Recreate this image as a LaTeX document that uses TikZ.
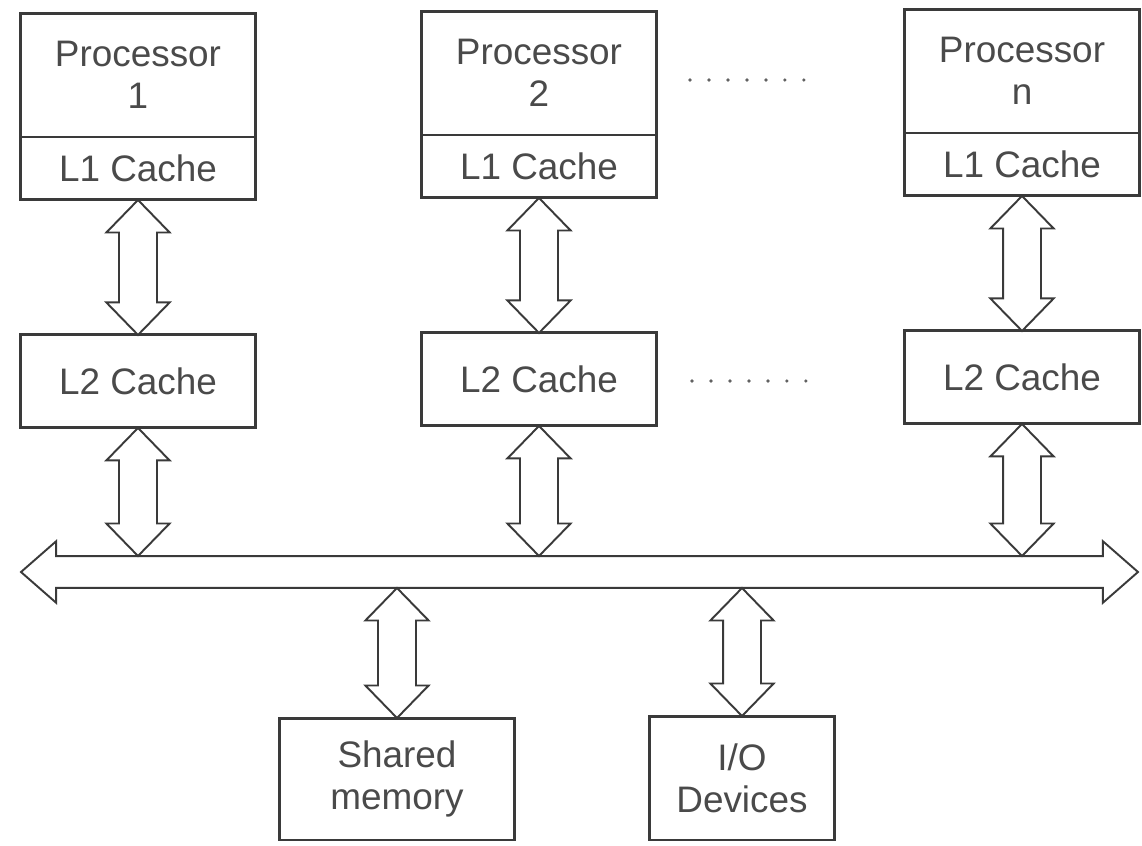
\documentclass[tikz,border=0pt]{standalone}
\usepackage{fontspec}
\setmainfont{Liberation Sans}
\usepackage{tikz}
\usetikzlibrary{positioning, calc}

\definecolor{inkgray}{HTML}{3A3A3A}
\definecolor{textgray}{HTML}{4A4A4A}

\tikzset{
	unittext/.style={minimum width=4.7cm, align=center, text=textgray,
		font=\fontsize{21}{24}\selectfont, inner sep=0pt, outer sep=0pt},
	unitbox/.style={unittext, draw=inkgray, line width=1.7pt},
	boxline/.style={draw=inkgray, line width=1.7pt},
	splitline/.style={draw=inkgray, line width=1pt},
	fatline/.style={draw=inkgray, line width=1.1pt, fill=white, line join=miter},
	dotrow/.style={inkgray!80, line width=2.1pt, line cap=round, dash pattern=on 0pt off 10.8pt}
}

% hollow double arrow, top point #1, bottom point #2
\newcommand{\vfat}[2]{%
	\draw[fatline] let \p1=#1, \p2=#2 in
	(\x1,\y1) -- ++(18pt,-18.5pt) -- ++(-7.2pt,0) -- (\x1+10.8pt,\y2+18.5pt) -- ++(7.2pt,0)
	-- (\x1,\y2) -- ++(-18pt,18.5pt) -- ++(7.2pt,0) -- (\x1-10.8pt,\y1-18.5pt) -- ++(-7.2pt,0) -- cycle;}

\begin{document}
\begin{tikzpicture}[x=0.02cm, y=-0.02cm]
		\useasboundingbox (0,0) rectangle (1142,845);
		
		% Processors with their L1 caches
		\node[unittext, minimum height=2.48cm] (p1) at (138,75) {Processor\\1};
		\node[unittext, minimum height=1.26cm, below=0pt of p1] (c1) {L1 Cache};
		\node[unittext, minimum height=2.48cm] (p2) at (539,73) {Processor\\2};
		\node[unittext, minimum height=1.26cm, below=0pt of p2] (c2) {L1 Cache};
		\node[unittext, minimum height=2.48cm] (pn) at (1022,71) {Processor\\n};
		\node[unittext, minimum height=1.26cm, below=0pt of pn] (cn) {L1 Cache};
		\foreach \p/\c in {p1/c1, p2/c2, pn/cn} {
			\draw[boxline] (\p.north west) rectangle (\c.south east);
			\draw[splitline] (\c.north west) -- (\c.north east);
		}
		
		% L2 caches
		\node[unitbox, minimum height=1.86cm, below=2.7cm of c1] (l2a) {L2 Cache};
		\node[unitbox, minimum height=1.86cm, below=2.7cm of c2] (l2b) {L2 Cache};
		\node[unitbox, minimum height=1.86cm, below=2.7cm of cn] (l2n) {L2 Cache};
		
		% Memory and devices
		\node[unitbox, minimum height=2.44cm] (mem) at (397,779) {Shared\\memory};
		\node[unitbox, minimum width=3.7cm, minimum height=2.48cm] (io) at (742,778) {I/O\\Devices};
		
		% "more of them" dots
		\draw[dotrow] (690,80) -- (806,80);
		\draw[dotrow] (692,381) -- (808,381);
		
		% System bus
		\coordinate (busl) at (21,572);
		\coordinate (busr) at (1138,572);
		\coordinate (bustop) at (0,556);
		\coordinate (busbot) at (0,588);
		\draw[fatline] let \p1=(busl), \p2=(busr) in
		(\x1,\y1) -- ++(20pt,17.5pt) -- ++(0,-8.5pt) -- (\x2-20pt,\y1+9pt) -- ++(0,8.5pt)
		-- (\x2,\y2) -- ++(-20pt,-17.5pt) -- ++(0,8.5pt) -- (\x1+20pt,\y1-9pt) -- ++(0,-8.5pt) -- cycle;
		
		% Links
		\vfat{(c1.south)}{(l2a.north)}
		\vfat{(c2.south)}{(l2b.north)}
		\vfat{(cn.south)}{(l2n.north)}
		\vfat{(l2a.south)}{(l2a.south |- bustop)}
		\vfat{(l2b.south)}{(l2b.south |- bustop)}
		\vfat{(l2n.south)}{(l2n.south |- bustop)}
		\vfat{(mem.north |- busbot)}{(mem.north)}
		\vfat{(io.north |- busbot)}{(io.north)}
	\end{tikzpicture}
\end{document}
